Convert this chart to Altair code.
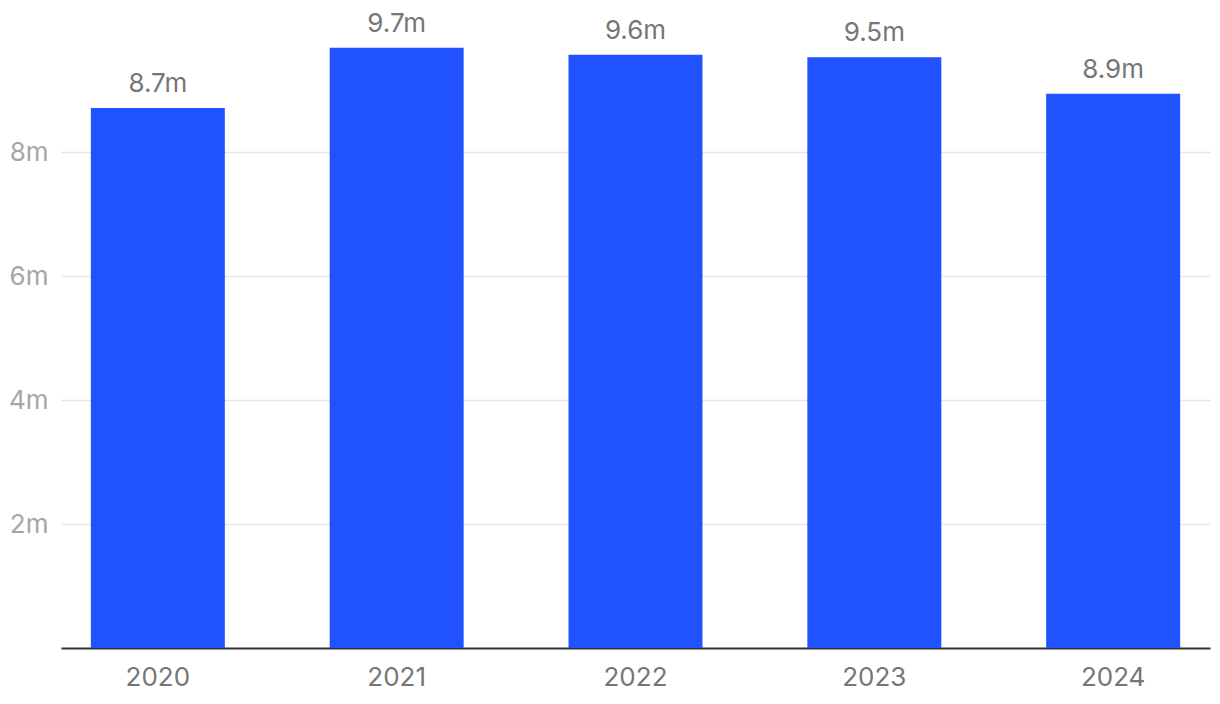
import altair as alt
import pandas as pd

years = ["2020", "2021", "2022", "2023", "2024"]
values = [8.71, 9.68, 9.57, 9.53, 8.94]
labels = ["8.7m", "9.7m", "9.6m", "9.5m", "8.9m"]

df = pd.DataFrame({"year": years, "value": values, "label": labels})

FONT = "Inter"

base = alt.Chart(df).encode(
    x=alt.X(
        "year:N",
        sort=years,
        scale=alt.Scale(paddingInner=0.439, paddingOuter=0.125),
        axis=alt.Axis(
            title=None,
            labelAngle=0,
            ticks=False,
            domainColor="#333333",
            domainWidth=2,
            labelColor="#767676",
            labelFontSize=26,
            labelFont=FONT,
            labelPadding=16,
            grid=False,
        ),
    ),
    y=alt.Y(
        "value:Q",
        scale=alt.Scale(domain=[0, 10], nice=False),
        axis=alt.Axis(
            title=None,
            values=[2, 4, 6, 8],
            labelExpr="datum.value + 'm'",
            ticks=False,
            domain=False,
            gridColor="#e6e6e6",
            gridWidth=1.5,
            labelColor="#a6a6a6",
            labelFontSize=26,
            labelFont=FONT,
            labelPadding=13,
        ),
    ),
)

bars = base.mark_bar(color="#2152FF")
text = base.mark_text(
    baseline="bottom", dy=-11, fontSize=26, font=FONT, color="#767676"
).encode(text="label:N")

chart = (
    (bars + text)
    .properties(
        width=1149,
        height=620,
        background="white",
        autosize=alt.AutoSizeParams(type="none"),
        padding={"left": 53, "top": 20, "right": 2, "bottom": 48},
    )
    .configure_view(strokeWidth=0)
)

chart.save("out.html", embed_options={"renderer": "svg", "actions": False})
